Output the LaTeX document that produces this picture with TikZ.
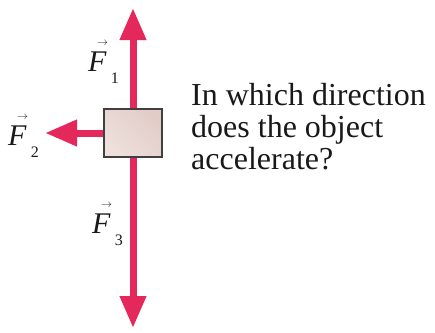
\documentclass[tikz,border=0pt]{standalone}
\usepackage{fontspec}
\setmainfont{Liberation Serif}
\usetikzlibrary{arrows.meta, positioning}
\definecolor{forcered}{RGB}{228,40,92}
\definecolor{boxlight}{RGB}{238,224,220}
\definecolor{boxdark}{RGB}{226,204,200}
% italic F with a small arrow above and a lowered index
\newcommand\fvec[1]{\rlap{\kern0.30em\raisebox{0.85em}{\fontsize{11}{11}\selectfont$\rightarrow$}}%
  \textit{F}\kern4pt\raisebox{-0.4em}{\fontsize{16}{16}\selectfont #1}}

\begin{document}
\begin{tikzpicture}[
                    x=1pt, y=-1pt,
                    % force arrows, thick with a wide triangular head
                    force/.style={color=forcered, line width=7pt,
                      -{Triangle[length=32pt, width=25pt]}},
                    % labels of the forces
                    flabel/.style={inner sep=0pt, anchor=base west,
                      font=\fontsize{30}{30}\selectfont},
                    every node/.style={color=black!90}
                  ]
  \useasboundingbox (0,0) rectangle (435,332);

  % --- the object and the arrow tips ---
  \node[draw=black!75, line width=1.2pt, minimum width=58pt, minimum height=48pt,
        inner sep=0pt, left color=boxlight, right color=boxdark,
        shading angle=135] (obj) at (133,133) {};
  \coordinate (f1tip) at (133,8);
  \coordinate (f2tip) at (45,133);
  \coordinate (f3tip) at (133,328);

  % --- the three forces ---
  \draw[force] (obj.north) -- (f1tip);
  \draw[force] (obj.west) -- (f2tip);
  \draw[force] (obj.south) -- (f3tip);

  % --- labels ---
  \node[flabel] (lab1) at (88,71) {\fvec{1}};
  \node[flabel] (lab2) at (8,145) {\fvec{2}};
  \node[flabel] (lab3) at (92,233) {\fvec{3}};

  % --- the question ---
  \node[anchor=north west, align=left, inner sep=0pt,
        font=\fontsize{32}{32}\selectfont] (question) at (191,83)
        {In which direction\\does the object\\accelerate?};
\end{tikzpicture}
\end{document}
